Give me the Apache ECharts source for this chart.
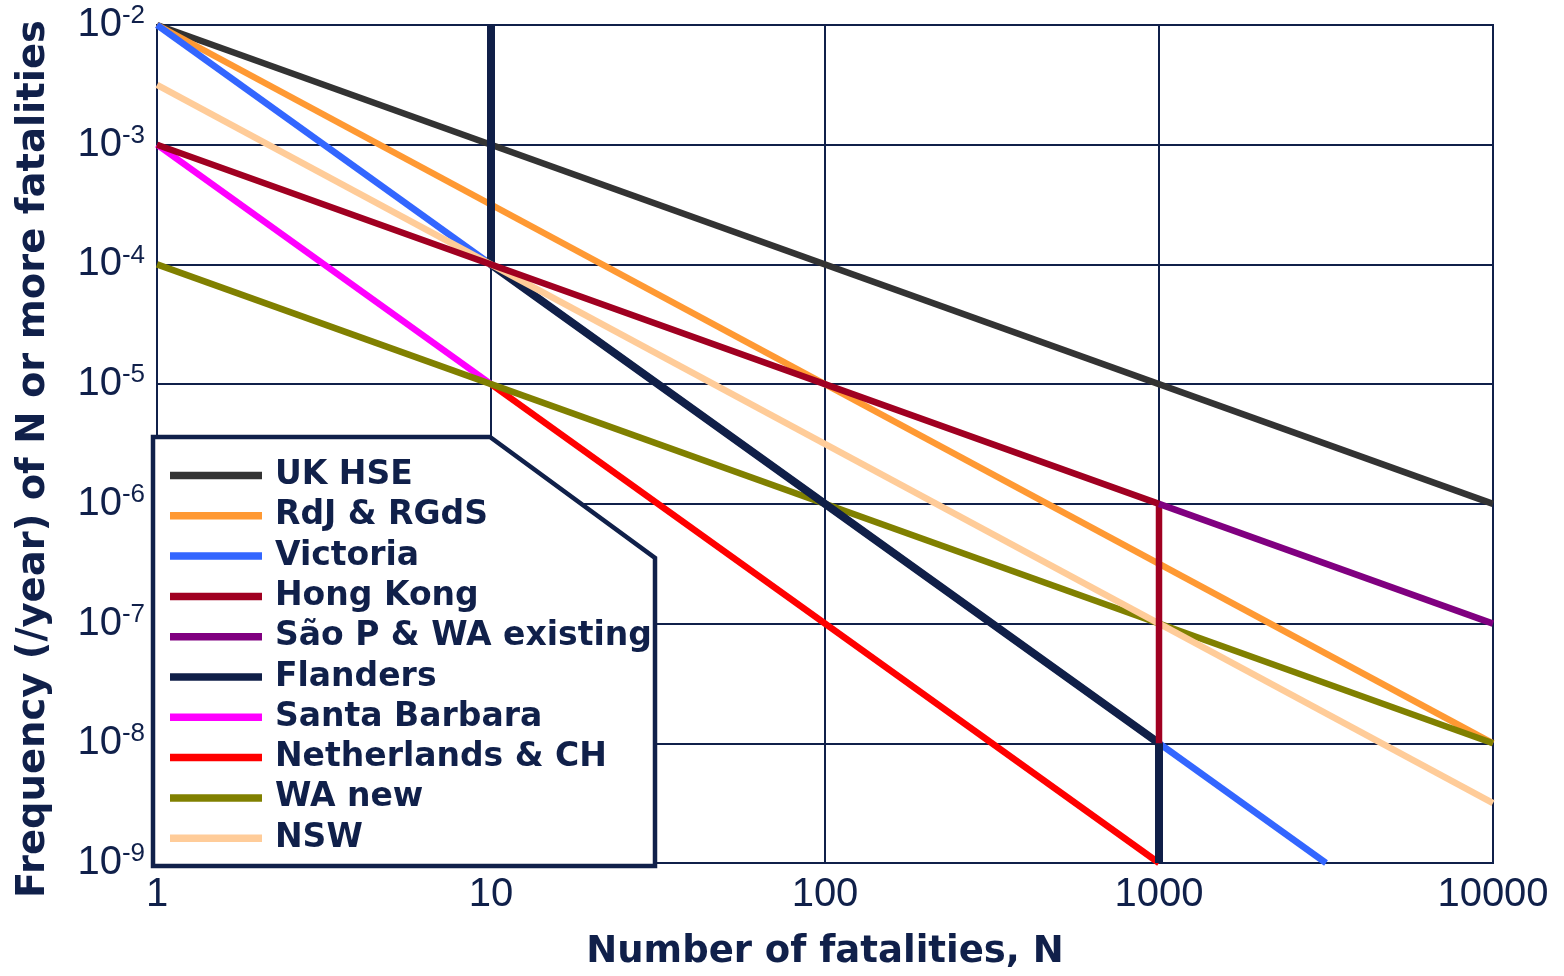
<!DOCTYPE html>
<html>
<head>
<meta charset="utf-8">
<script src="https://cdn.jsdelivr.net/npm/echarts@6/dist/echarts.min.js"></script>
<style>
html,body{margin:0;padding:0;background:#fff;}
#chart{width:1564px;height:976px;}
</style>
</head>
<body>
<div id="chart"></div>
<script>
// Legend order
const legendNames = ['UK HSE','RdJ & RGdS','Victoria','Hong Kong','São P & WA existing','Flanders','Santa Barbara','Netherlands & CH','WA new','NSW'];
// Series data: [N, frequency]
const ukHSE       = [[1,1e-2],[10000,1e-6]];
const rdjRGdS     = [[1,1e-2],[10000,1e-8]];
const victoria    = [[1,1e-2],[3162,1e-9]];
const hongKong    = [[1,1e-3],[1000,1e-6],[1000,1e-8]];
const saoPauloWA  = [[1000,1e-6],[10000,1e-7]];
const flanders    = [[10,1e-2],[10,1e-4],[1000,1e-8],[1000,1e-9]];
const santaBarbara= [[1,1e-3],[10,1e-5]];
const netherlands = [[10,1e-5],[1000,1e-9]];
const waNew       = [[1,1e-4],[10000,1e-8]];
const nsw         = [[1,3.16e-3],[10000,3.16e-9]];
// Axis ranges
const xRange = [1,10000];
const yRange = [1e-9,1e-2];

const colors = {
  'UK HSE':'#333333','RdJ & RGdS':'#ff9933','Victoria':'#3366ff','Hong Kong':'#a00021',
  'São P & WA existing':'#800080','Flanders':'#101f48','Santa Barbara':'#ff00ff',
  'Netherlands & CH':'#ff0000','WA new':'#808000','NSW':'#ffcc99'
};
const widths = {'Flanders':8};
const navy = '#10204a';

// draw order (bottom to top)
const drawOrder = [
  ['UK HSE', ukHSE],['RdJ & RGdS', rdjRGdS],['Victoria', victoria],['Netherlands & CH', netherlands],
  ['Santa Barbara', santaBarbara],['WA new', waNew],['Flanders', flanders],['NSW', nsw],
  ['Hong Kong', hongKong],['São P & WA existing', saoPauloWA]
];

const chart = echarts.init(document.getElementById('chart'));
chart.setOption({
  animation:false,
  backgroundColor:'#fff',
  grid:{left:157,right:71,top:25,bottom:110,show:true,borderColor:navy,borderWidth:2},
  xAxis:{
    type:'log',logBase:10,min:xRange[0],max:xRange[1],
    axisLine:{show:false},axisTick:{show:false},
    splitLine:{show:true,lineStyle:{color:navy,width:2}},
    axisLabel:{color:navy,fontFamily:'Liberation Sans',fontSize:40,margin:12,
      formatter:function(v){return String(Math.round(v));}},
    name:'Number of fatalities, N',nameLocation:'middle',nameGap:71,
    nameTextStyle:{color:navy,fontFamily:'DejaVu Sans',fontWeight:'bold',fontSize:37}
  },
  yAxis:{
    type:'log',logBase:10,min:yRange[0],max:yRange[1],
    axisLine:{show:false},axisTick:{show:false},
    splitLine:{show:true,lineStyle:{color:navy,width:2}},
    axisLabel:{
      margin:12,
      formatter:function(v){const e=Math.round(Math.log10(v));return '{b|10}{s|'+e+'}';},
      rich:{
        b:{color:navy,fontFamily:'Liberation Sans',fontSize:40,lineHeight:40},
        s:{color:navy,fontFamily:'Liberation Sans',fontSize:26,padding:[0,0,18,0]}
      }
    },
    name:'Frequency (/year) of N or more fatalities',nameLocation:'middle',nameGap:104,
    nameTextStyle:{color:navy,fontFamily:'DejaVu Sans',fontWeight:'bold',fontSize:38.5,padding:[0,30,0,0]}
  },
  legend:{
    data:legendNames,orient:'vertical',left:170,top:459,padding:0,
    icon:'rect',itemWidth:92,itemHeight:7.5,itemGap:7.3,
    textStyle:{color:navy,fontFamily:'DejaVu Sans',fontWeight:'bold',fontSize:33,lineHeight:33,padding:[0,0,0,8]},
    selectedMode:false,z:20
  },
  graphic:[{
    type:'polygon',z:10,
    shape:{points:[[153,437],[490,437],[655,558],[655,866],[153,866]]},
    style:{fill:'#fff',stroke:navy,lineWidth:4.5}
  }],
  series:drawOrder.map(function(d){
    return {
      name:d[0],type:'line',data:d[1],showSymbol:false,symbol:'none',clip:false,
      lineStyle:{color:colors[d[0]],width:widths[d[0]]||6.5},itemStyle:{color:colors[d[0]]},
      emphasis:{disabled:true}
    };
  })
});
</script>
</body>
</html>
